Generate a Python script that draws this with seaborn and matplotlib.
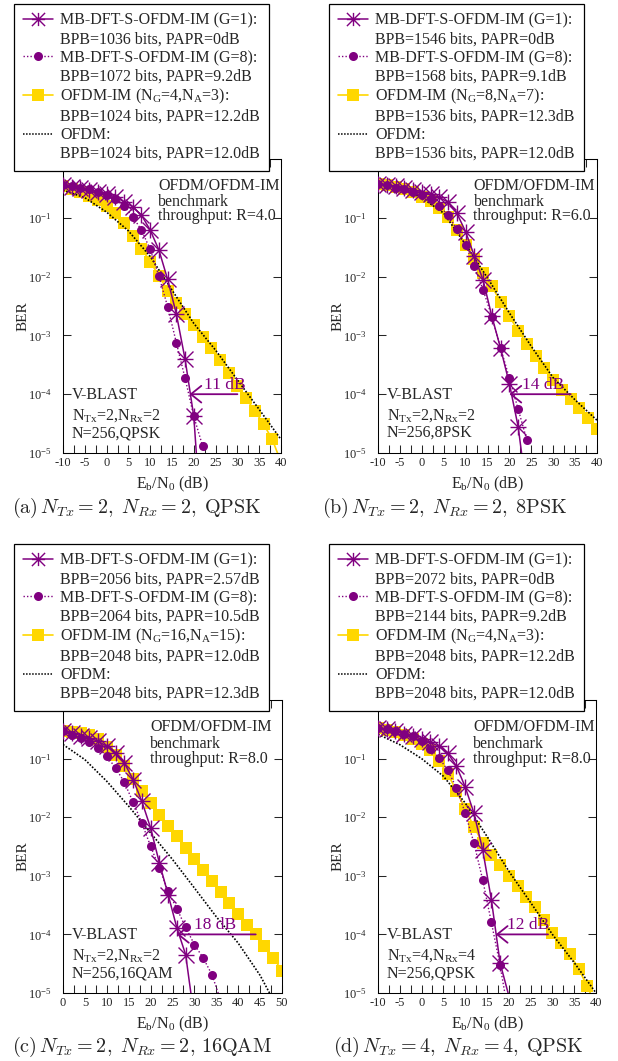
import matplotlib
matplotlib.use("Agg")
import matplotlib.pyplot as plt
from matplotlib.path import Path
from matplotlib.lines import Line2D
from matplotlib.ticker import MultipleLocator, NullLocator, FixedLocator, LogFormatterMathtext
import numpy as np
import pandas as pd
import seaborn as sns

sns.set_style("ticks")
plt.rcParams.update({
    "font.family": ["Liberation Serif", "DejaVu Serif"],
    "mathtext.fontset": "custom",
    "mathtext.rm": "Liberation Serif",
    "mathtext.it": "Liberation Serif:italic",
    "mathtext.bf": "Liberation Serif:bold",
    "axes.unicode_minus": False,
})

PURPLE = "#800080"
GOLD = "#FFD700"
YMIN, YMAX = 1e-5, 1.0

# ---------------- (a) 2x2, QPSK ----------------
snr_a_g1 = list(range(-10, 23, 2))
ber_a_g1 = [0.359, 0.336, 0.315, 0.295, 0.276, 0.252, 0.227, 0.187, 0.154, 0.111,
            0.0618, 0.0283, 0.00897, 0.00231, 3.93e-4, 4.18e-5, 3e-7]
snr_a_g8 = list(range(-10, 23, 2))
ber_a_g8 = [0.359, 0.345, 0.327, 0.303, 0.276, 0.243, 0.205, 0.158, 0.104, 0.0618,
            0.029, 0.0102, 0.00308, 7.5e-4, 1.87e-4, 4.2e-5, 1.33e-5]
snr_a_im = list(range(-10, 41, 2))
ber_a_im = [0.35, 0.31, 0.27, 0.235, 0.2, 0.16, 0.12, 0.08, 0.05, 0.03, 0.018, 0.0102,
            0.0058, 0.0036, 0.0023, 0.0015, 9.5e-4, 6e-4, 3.8e-4, 2.3e-4, 1.4e-4,
            8.5e-5, 5.2e-5, 3.1e-5, 1.7e-5, 7e-6]
snr_a_ofdm = list(range(-10, 41, 5))
ber_a_ofdm = [0.295, 0.22, 0.125, 0.06, 0.022, 0.0059, 0.0016, 5.6e-4, 1.75e-4, 5.5e-5, 1.7e-5]

# ---------------- (b) 2x2, 8PSK ----------------
snr_b_g1 = list(range(-10, 25, 2))
ber_b_g1 = [0.383, 0.366, 0.345, 0.322, 0.3, 0.276, 0.25, 0.222, 0.185, 0.12, 0.058,
            0.0224, 0.0087, 0.0021, 6e-4, 1.5e-4, 2.8e-5, 2e-6]
snr_b_g8 = list(range(-10, 25, 2))
ber_b_g8 = [0.383, 0.359, 0.327, 0.303, 0.276, 0.243, 0.205, 0.158, 0.111, 0.0634,
            0.0343, 0.0151, 0.00591, 0.00209, 6.05e-4, 1.87e-4, 5.57e-5, 1.64e-5]
snr_b_im = list(range(-10, 41, 2))
ber_b_im = [0.38, 0.36, 0.335, 0.305, 0.27, 0.23, 0.19, 0.145, 0.105, 0.063, 0.034, 0.02,
            0.0115, 0.0068, 0.0037, 0.0021, 0.0012, 7.2e-4, 4.5e-4, 2.8e-4, 1.76e-4,
            1.2e-4, 8.3e-5, 5.8e-5, 3.9e-5, 2.6e-5]
snr_b_ofdm = list(range(-10, 41, 5))
ber_b_ofdm = [0.38, 0.32, 0.22, 0.12, 0.035, 0.0095, 0.0024, 6.5e-4, 1.9e-4, 8e-5, 3.6e-5]

# ---------------- (c) 2x2, 16QAM ----------------
snr_c_g1 = list(range(0, 31, 2))
ber_c_g1 = [0.292, 0.274, 0.247, 0.225, 0.198, 0.162, 0.125, 0.0844, 0.0439, 0.0187,
            0.00656, 0.00166, 4.78e-4, 1.29e-4, 4.52e-5, 3.6e-6]
snr_c_g8 = list(range(0, 37, 2))
ber_c_g8 = [0.292, 0.257, 0.226, 0.19, 0.152, 0.11, 0.0693, 0.0395, 0.018, 0.00798,
            0.00319, 0.00136, 5.44e-4, 2.75e-4, 1.32e-4, 6.7e-5, 3.97e-5, 2.06e-5, 7.5e-6]
snr_c_im = list(range(0, 51, 2))
ber_c_im = [0.3, 0.285, 0.27, 0.25, 0.215, 0.16, 0.117, 0.074, 0.044, 0.028, 0.0175,
            0.011, 0.0072, 0.0047, 0.003, 0.0019, 0.00128, 8.1e-4, 5.2e-4, 3.5e-4,
            2.2e-4, 1.47e-4, 1e-4, 6.3e-5, 4e-5, 2.4e-5]
snr_c_ofdm = list(range(0, 51, 5))
ber_c_ofdm = [0.174, 0.096, 0.041, 0.0154, 0.0054, 0.0019, 6.2e-4, 2.0e-4, 7.1e-5, 2.0e-5, 4e-6]

# ---------------- (d) 4x4, QPSK ----------------
snr_d_g1 = list(range(-10, 21, 2))
ber_d_g1 = [0.333, 0.32, 0.292, 0.264, 0.24, 0.217, 0.19, 0.162, 0.125, 0.074, 0.0328,
            0.0118, 0.0028, 3.93e-4, 3.26e-5, 9e-6]
snr_d_g8 = list(range(-10, 21, 2))
ber_d_g8 = [0.333, 0.32, 0.292, 0.267, 0.24, 0.2, 0.146, 0.103, 0.0632, 0.0316, 0.0118,
            0.00364, 8.6e-4, 1.61e-4, 2.97e-5, 4e-6]
snr_d_im = list(range(-10, 41, 2))
ber_d_im = [0.333, 0.31, 0.285, 0.255, 0.22, 0.18, 0.14, 0.09, 0.055, 0.028, 0.014,
            0.0068, 0.0037, 0.0023, 0.0015, 9.8e-4, 6.6e-4, 4.4e-4, 2.9e-4, 1.75e-4,
            1.05e-4, 7e-5, 4.6e-5, 2.6e-5, 1.3e-5, 6e-6]
snr_d_ofdm = list(range(-10, 41, 5))
ber_d_ofdm = [0.26, 0.173, 0.1, 0.05, 0.0175, 0.0047, 0.0012, 3.5e-4, 1e-4, 3.3e-5, 1e-5]

# ---------------- texts ----------------
legend_texts = {
    "a": ["MB-DFT-S-OFDM-IM (G=1):", "BPB=1036 bits, PAPR=0dB",
          "MB-DFT-S-OFDM-IM (G=8):", "BPB=1072 bits, PAPR=9.2dB",
          r"OFDM-IM (N$_\mathrm{G}$=4,N$_\mathrm{A}$=3):", "BPB=1024 bits, PAPR=12.2dB",
          "OFDM:", "BPB=1024 bits, PAPR=12.0dB"],
    "b": ["MB-DFT-S-OFDM-IM (G=1):", "BPB=1546 bits, PAPR=0dB",
          "MB-DFT-S-OFDM-IM (G=8):", "BPB=1568 bits, PAPR=9.1dB",
          r"OFDM-IM (N$_\mathrm{G}$=8,N$_\mathrm{A}$=7):", "BPB=1536 bits, PAPR=12.3dB",
          "OFDM:", "BPB=1536 bits, PAPR=12.0dB"],
    "c": ["MB-DFT-S-OFDM-IM (G=1):", "BPB=2056 bits, PAPR=2.57dB",
          "MB-DFT-S-OFDM-IM (G=8):", "BPB=2064 bits, PAPR=10.5dB",
          r"OFDM-IM (N$_\mathrm{G}$=16,N$_\mathrm{A}$=15):", "BPB=2048 bits, PAPR=12.0dB",
          "OFDM:", "BPB=2048 bits, PAPR=12.3dB"],
    "d": ["MB-DFT-S-OFDM-IM (G=1):", "BPB=2072 bits, PAPR=0dB",
          "MB-DFT-S-OFDM-IM (G=8):", "BPB=2144 bits, PAPR=9.2dB",
          r"OFDM-IM (N$_\mathrm{G}$=4,N$_\mathrm{A}$=3):", "BPB=2048 bits, PAPR=12.2dB",
          "OFDM:", "BPB=2048 bits, PAPR=12.0dB"],
}
throughput = {"a": "4.0", "b": "6.0", "c": "8.0", "d": "8.0"}
mimo_texts = {
    "a": [r"N$_\mathrm{Tx}$=2,N$_\mathrm{Rx}$=2", "N=256,QPSK"],
    "b": [r"N$_\mathrm{Tx}$=2,N$_\mathrm{Rx}$=2", "N=256,8PSK"],
    "c": [r"N$_\mathrm{Tx}$=2,N$_\mathrm{Rx}$=2", "N=256,16QAM"],
    "d": [r"N$_\mathrm{Tx}$=4,N$_\mathrm{Rx}$=4", "N=256,QPSK"],
}
gain_start = {"a": 30, "b": 34, "c": 44, "d": 29}
gain_end = {"a": 19, "b": 20, "c": 26, "d": 17}
gain_label = {"a": "11 dB", "b": "14 dB", "c": "18 dB", "d": "12 dB"}
gain_label_x = {"a": 22.3, "b": 22.8, "c": 29.8, "d": 19.6}
captions = {
    "a": r"$\mathrm{(a)}\,N_{Tx}=2,\;N_{Rx}=2,\;\mathrm{QPSK}$",
    "b": r"$\mathrm{(b)}\,N_{Tx}=2,\;N_{Rx}=2,\;\mathrm{8PSK}$",
    "c": r"$\mathrm{(c)}\,N_{Tx}=2,\;N_{Rx}=2,\,\mathrm{16QAM}$",
    "d": r"$\mathrm{(d)}\,N_{Tx}=4,\;N_{Rx}=4,\;\mathrm{QPSK}$",
}

# ---------------- layout (pixels) ----------------
W, H = 618, 1061
fig = plt.figure(figsize=(W / 100, H / 100), dpi=100)

panels = {
    "a": dict(box=(63, 281, 159, 453), xlim=(-10, 40), legend=(14, 4), caption=(137, 512.7),
              note_x=0.436, note_y=(0.895, 0.84, 0.792),
              series=((snr_a_g1, ber_a_g1), (snr_a_g8, ber_a_g8), (snr_a_im, ber_a_im), (snr_a_ofdm, ber_a_ofdm))),
    "b": dict(box=(378, 597, 159, 453), xlim=(-10, 40), legend=(329, 4), caption=(445, 512.7),
              note_x=0.436, note_y=(0.895, 0.84, 0.792),
              series=((snr_b_g1, ber_b_g1), (snr_b_g8, ber_b_g8), (snr_b_im, ber_b_im), (snr_b_ofdm, ber_b_ofdm))),
    "c": dict(box=(63, 282, 700, 993), xlim=(0, 50), legend=(14, 544), caption=(142, 1052),
              note_x=0.397, note_y=(0.895, 0.835, 0.785),
              series=((snr_c_g1, ber_c_g1), (snr_c_g8, ber_c_g8), (snr_c_im, ber_c_im), (snr_c_ofdm, ber_c_ofdm))),
    "d": dict(box=(378, 596, 700, 993), xlim=(-10, 40), legend=(329, 544), caption=(458, 1052),
              note_x=0.437, note_y=(0.895, 0.835, 0.785),
              series=((snr_d_g1, ber_d_g1), (snr_d_g8, ber_d_g8), (snr_d_im, ber_d_im), (snr_d_ofdm, ber_d_ofdm))),
}

# gnuplot-style asterisk: a "+" overlaid with an "x"
asterisk = Path([(-1, 0), (1, 0), (0, -1), (0, 1), (-1, -1), (1, 1), (-1, 1), (1, -1)],
                [Path.MOVETO, Path.LINETO] * 4)

styles = [
    dict(color=PURPLE, linestyle="-", linewidth=1.1, marker=asterisk, markersize=11.5,
         markeredgewidth=1.0, markeredgecolor=PURPLE, markerfacecolor="none", zorder=5),
    dict(color=PURPLE, linestyle=(0, (1, 1.5)), linewidth=1.0, marker="o", markersize=6.5,
         markeredgewidth=0, markeredgecolor=PURPLE, markerfacecolor=PURPLE, zorder=4),
    dict(color=GOLD, linestyle="-", linewidth=1.2, marker="s", markersize=8.6,
         markeredgewidth=0, markeredgecolor=GOLD, markerfacecolor=GOLD, zorder=2),
    dict(color="black", linestyle=(0, (1, 1)), linewidth=1.2, marker=None, zorder=3),
]


def draw_curve(ax, snr, ber, style):
    df = pd.DataFrame({"snr": snr, "ber": ber})
    shown = [i for i, v in enumerate(ber) if v >= YMIN]
    kw = dict(style)
    if kw.get("marker") is not None:
        kw["markevery"] = shown
    sns.lineplot(data=df, x="snr", y="ber", ax=ax, estimator=None, sort=False,
                 errorbar=None, legend=False, **kw)


def legend_handles():
    g1 = Line2D([], [], color=PURPLE, lw=1.1, marker=asterisk, markersize=9.5,
                markeredgewidth=1.0, markerfacecolor="none")
    g8 = Line2D([], [], color=PURPLE, lw=1.0, linestyle=(0, (1, 1.5)), marker="o",
                markersize=6.5, markeredgewidth=0)
    im = Line2D([], [], color=GOLD, lw=1.2, marker="s", markersize=8.4, markeredgewidth=0)
    of = Line2D([], [], color="black", lw=1.1, linestyle=(0, (1, 1)))
    blank = Line2D([], [], linestyle="none")
    return [g1, blank, g8, blank, im, blank, of, blank]


for key, p in panels.items():
    left, right, top, bottom = p["box"]
    ax = fig.add_axes([left / W, 1 - bottom / H, (right - left) / W, (bottom - top) / H])
    ax.set_yscale("log")

    for (snr, ber), style in zip(p["series"], styles):
        draw_curve(ax, snr, ber, style)

    ax.set_xlim(*p["xlim"])
    ax.set_ylim(YMIN, YMAX)
    ax.yaxis.set_major_locator(FixedLocator([1e-5, 1e-4, 1e-3, 1e-2, 1e-1, 1e0]))
    ax.yaxis.set_major_formatter(LogFormatterMathtext())
    ax.yaxis.set_minor_locator(NullLocator())
    ax.xaxis.set_major_locator(MultipleLocator(5))
    ax.xaxis.set_minor_locator(MultipleLocator(2.5))
    ax.tick_params(which="both", direction="in", length=5.5, width=0.75,
                   top=True, right=True, labelsize=9)
    ax.tick_params(axis="x", pad=3)
    ax.tick_params(axis="y", pad=8)
    for sp in ax.spines.values():
        sp.set_linewidth(0.75)
        sp.set_color("black")

    ax.set_xlabel(r"E$_\mathrm{b}$/N$_\mathrm{0}$ (dB)", fontsize=11.5)
    ax.xaxis.set_label_coords(0.5, -0.075)
    ax.set_ylabel("BER", fontsize=11)
    ax.yaxis.set_label_coords(-0.155, 0.466)

    # benchmark note (top right)
    for txt, yy in zip(["OFDM/OFDM-IM", "benchmark", "throughput: R=" + throughput[key]],
                       p["note_y"]):
        ax.text(p["note_x"], yy, txt, transform=ax.transAxes, fontsize=11.5, va="baseline",
                ha="left", zorder=6)

    # system note (bottom left)
    for txt, yy in zip(["V-BLAST"] + mimo_texts[key], [0.184, 0.113, 0.054]):
        ax.text(0.04, yy, txt, transform=ax.transAxes, fontsize=11.5, va="baseline",
                ha="left", zorder=6)

    # SNR gain arrow at BER = 1e-4
    ax.annotate("", xy=(gain_end[key], 1e-4), xytext=(gain_start[key], 1e-4),
                arrowprops=dict(arrowstyle="->,head_length=0.75,head_width=0.6",
                                color=PURPLE, lw=1.3, shrinkA=0, shrinkB=0,
                                mutation_scale=10), zorder=7)
    ax.text(gain_label_x[key], 1.22e-4, gain_label[key], color=PURPLE, fontsize=12.5,
            va="baseline", ha="left", zorder=7)

    lx, ly = p["legend"]
    leg = ax.legend(legend_handles(), legend_texts[key], loc="upper left",
                    bbox_to_anchor=(lx / W, 1 - ly / H), bbox_transform=fig.transFigure,
                    borderaxespad=0, fontsize=11.5, frameon=True, fancybox=False,
                    framealpha=1, edgecolor="black", borderpad=0.55, labelspacing=0.16,
                    handlelength=1.9, handletextpad=0.45, numpoints=1)
    leg.get_frame().set_linewidth(0.9)
    leg.set_zorder(10)

    cx, cy = p["caption"]
    fig.text(cx / W, 1 - cy / H, captions[key], fontsize=14.5, ha="center", va="baseline",
             math_fontfamily="cm")

fig.savefig("out.png", dpi=100)
